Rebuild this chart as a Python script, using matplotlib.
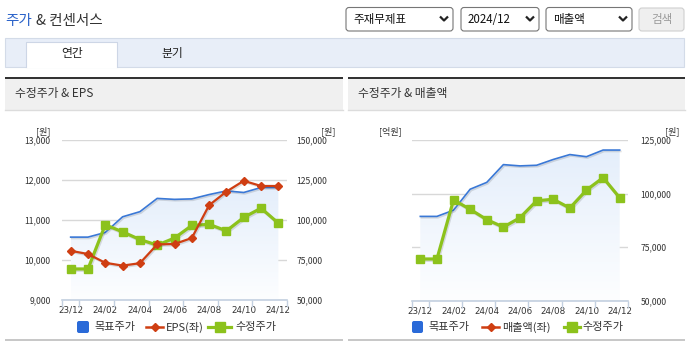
import numpy as np
import matplotlib
matplotlib.use('Agg')
import matplotlib.pyplot as plt
from matplotlib import font_manager
from matplotlib.patches import Rectangle, FancyBboxPatch, PathPatch
from matplotlib.path import Path
from matplotlib.lines import Line2D
from matplotlib.ticker import FixedLocator, FuncFormatter
import matplotlib.patheffects as pe
from matplotlib.colors import LinearSegmentedColormap

# ---------------- data ----------------
months = ['23/12', '24/01', '24/02', '24/03', '24/04', '24/05', '24/06',
          '24/07', '24/08', '24/09', '24/10', '24/11', '24/12']
target_price = [89300, 89300, 92200, 102000, 105200, 113500, 112900,
                113200, 115900, 118200, 117200, 120300, 120300]
adj_price = [69400, 69400, 97000, 92600, 87800, 84300, 88700,
             96600, 97300, 93200, 101600, 107400, 98000]
eps = [10230, 10150, 9930, 9860, 9920, 10390, 10400,
       10550, 11370, 11710, 11980, 11850, 11850]
revenue = []  # 매출액: no values shown

eps_ticks = [9000, 10000, 11000, 12000, 13000]
price_ticks_left = [50000, 75000, 100000, 125000, 150000]
price_ticks_right = [50000, 75000, 100000, 125000]

# ---------------- style ----------------
KR = ['Noto Sans CJK KR', 'DejaVu Sans']
names = {f.name for f in font_manager.fontManager.ttflist}
NARROW = 'Liberation Sans Narrow' if 'Liberation Sans Narrow' in names else 'DejaVu Sans'
plt.rcParams['font.family'] = KR

C_BLUE = '#3a78d6'
C_BLUE_LEG = '#2a6ad8'
C_RED = '#cf3e12'
C_GREEN = '#8cc21c'
C_GRID = '#d8d8d8'
C_AXIS = '#c3d0e0'
C_TXT = '#333333'

W, H = 690, 350
fig = plt.figure(figsize=(W / 100, H / 100), dpi=100)
fig.patch.set_facecolor('white')

ov = fig.add_axes([0, 0, 1, 1], zorder=0)
ov.set_xlim(0, W)
ov.set_ylim(H, 0)
ov.axis('off')


def rect(x0, y0, x1, y1, fc, ec='none', lw=0, z=1):
    ov.add_patch(Rectangle((x0, y0), x1 - x0, y1 - y0, facecolor=fc,
                           edgecolor=ec, linewidth=lw, zorder=z))


# header title
ov.text(5, 21.5, '주가', color='#2a62c9', fontsize=10.5, va='center', ha='left')
ov.text(36, 21.5, '& 컨센서스', color=C_TXT, fontsize=10.5, va='center', ha='left')

# dropdowns
for x0, x1, label in [(346, 453, '주재무제표'), (461, 539, '2024/12'), (546, 632, '매출액')]:
    ov.add_patch(FancyBboxPatch((x0, 7.5), x1 - x0, 23.5,
                                boxstyle='round,pad=0,rounding_size=3',
                                facecolor='white', edgecolor='#767676', linewidth=0.8, zorder=2))
    ov.text(x0 + 7, 19.5, label, fontsize=8.3, color='#111', va='center', ha='left', zorder=3)
    cx = x1 - 9
    ov.plot([cx - 4, cx, cx + 4], [16.5, 20.5, 16.5], color='#222', lw=1.6, zorder=3,
            solid_capstyle='butt')
ov.add_patch(FancyBboxPatch((639, 8), 45, 23, boxstyle='round,pad=0,rounding_size=3',
                            facecolor='#efefef', edgecolor='#cfcfcf', linewidth=0.8, zorder=2))
ov.text(661.5, 19.5, '검색', fontsize=8.3, color='#9a9a9a', va='center', ha='center', zorder=3)

# tab bar
rect(5, 37.5, 684, 67, '#e8eef8', ec='#d3dbe8', lw=0.8)
rect(25.7, 42, 117, 67.5, 'white', z=2)
ov.plot([25.7, 25.7, 117, 117], [67, 42, 42, 67], color='#cdd6e6', lw=0.8, zorder=3)
ov.text(72, 54, '연간', fontsize=8.5, color='#222', va='center', ha='center', zorder=3)
ov.text(172, 54, '분기', fontsize=8.5, color='#222', va='center', ha='center', zorder=3)

# panels
for x0, x1, title in [(5, 343, '수정주가 & EPS'), (348, 685, '수정주가 & 매출액')]:
    rect(x0, 79, x1, 109.5, '#f0f0f0')
    rect(x0, 76.5, x1, 79, '#333333')
    ov.plot([x0, x1], [110, 110], color='#dcdcdc', lw=1, zorder=2)
    ov.text(x0 + 10, 94, title, fontsize=8.5, color=C_TXT, va='center', ha='left', zorder=3)
    rect(x0, 339, x1, 341, '#c8c8c8')

# unit labels
ov.text(43, 131, '[원]', fontsize=6.5, color=C_TXT, ha='center', va='center')
ov.text(328, 131, '[원]', fontsize=6.5, color=C_TXT, ha='center', va='center')
ov.text(390, 131, '[억원]', fontsize=6.5, color=C_TXT, ha='center', va='center')
ov.text(672, 131, '[원]', fontsize=6.5, color=C_TXT, ha='center', va='center')

cmap = LinearSegmentedColormap.from_list('area', ['#fdfeff', '#e4eefb'])
shadow = [pe.SimpleLineShadow(offset=(0.8, -1.0), alpha=0.12, shadow_color='#000000'), pe.Normal()]
x = np.arange(len(months))


def area_gradient(axp, yvals, ybottom):
    im = axp.imshow(np.linspace(0, 1, 256).reshape(-1, 1), origin='lower',
                    extent=[x[0], x[-1], ybottom, max(yvals)], aspect='auto',
                    cmap=cmap, zorder=1, interpolation='bilinear')
    verts = list(zip(x, yvals)) + [(x[-1], ybottom), (x[0], ybottom), (x[0], yvals[0])]
    codes = [Path.MOVETO] + [Path.LINETO] * (len(verts) - 2) + [Path.CLOSEPOLY]
    patch = PathPatch(Path(verts, codes), facecolor='none', edgecolor='none',
                      transform=axp.transData)
    axp.add_patch(patch)
    im.set_clip_path(patch)


def style_xaxis(a):
    a.set_xlim(-0.5, 12.5)
    a.set_xticks(x[::2])
    a.set_xticklabels(months[::2], fontsize=6.3, color=C_TXT, family=NARROW)
    a.tick_params(axis='x', length=0, pad=4)
    a.xaxis.set_minor_locator(FixedLocator([-0.5, 0.5, 2.5, 4.5, 6.5, 8.5, 10.5, 12.5]))
    a.tick_params(axis='x', which='minor', length=5, color=C_AXIS, width=1)
    for s in ['top', 'left', 'right']:
        a.spines[s].set_visible(False)
    a.spines['bottom'].set_color(C_AXIS)
    a.spines['bottom'].set_linewidth(1.2)


fmt = FuncFormatter(lambda v, p: f'{int(v):,}')


def draw_price(a):
    area_gradient(a, target_price, 50000)
    a.plot(x, target_price, color=C_BLUE, lw=1.2, zorder=3, path_effects=shadow)
    a.plot(x, adj_price, color=C_GREEN, lw=2.3, zorder=4, path_effects=shadow)
    a.plot(x, adj_price, color=C_GREEN, lw=0, marker='s', ms=6, zorder=5)


# ---------------- left chart ----------------
axp = fig.add_axes([62 / W, 1 - 300 / H, 225 / W, 160 / H], zorder=2)  # price (right axis)
axe = fig.add_axes([62 / W, 1 - 300 / H, 225 / W, 160 / H], zorder=3)  # EPS (left axis)
axe.patch.set_visible(False)
axp.patch.set_visible(False)

draw_price(axp)
axp.set_ylim(50000, 150000)
axp.yaxis.tick_right()
axp.set_yticks(price_ticks_left)
axp.yaxis.set_major_formatter(fmt)
axp.tick_params(axis='y', length=0, pad=7, labelsize=6.2, labelcolor=C_TXT)
axp.grid(axis='y', color=C_GRID, lw=1)
axp.set_axisbelow(True)
style_xaxis(axp)

axe.plot(x, eps, color=C_RED, lw=1.6, zorder=4, path_effects=shadow)
axe.plot(x, eps, color=C_RED, lw=0, marker='D', ms=4.2, zorder=5)
axe.set_ylim(9000, 13000)
axe.set_xlim(-0.5, 12.5)
axe.set_yticks(eps_ticks)
axe.yaxis.set_major_formatter(fmt)
axe.tick_params(axis='y', length=0, pad=8, labelsize=6.2, labelcolor=C_TXT)
axe.tick_params(axis='x', which='both', length=0, labelbottom=False)
for s in axe.spines.values():
    s.set_visible(False)

# ---------------- right chart ----------------
axr = fig.add_axes([412 / W, 1 - 300.5 / H, 216 / W, 160.5 / H], zorder=2)
axr.patch.set_visible(False)
draw_price(axr)
if revenue:
    axr.plot(x[:len(revenue)], revenue, color=C_RED, lw=1.6, marker='D', ms=4.2)
axr.set_ylim(50000, 125000)
axr.yaxis.tick_right()
axr.set_yticks(price_ticks_right)
axr.yaxis.set_major_formatter(fmt)
axr.tick_params(axis='y', length=0, pad=9, labelsize=6.2, labelcolor=C_TXT)
axr.grid(axis='y', color=C_GRID, lw=1)
axr.set_axisbelow(True)
style_xaxis(axr)


# ---------------- legends ----------------
def legend(y, sq, red, redtxt, green, txt1, txt2, txt3):
    ov.add_patch(FancyBboxPatch((sq[0], y - 6), sq[1] - sq[0], 12,
                                boxstyle='round,pad=0,rounding_size=2',
                                facecolor=C_BLUE_LEG, edgecolor='none', zorder=3))
    ov.text(txt1, y, '목표주가', fontsize=8, color=C_TXT, va='center', ha='left')
    ov.add_line(Line2D([red[0], red[1]], [y, y], color=C_RED, lw=1.8, zorder=3))
    ov.add_line(Line2D([(red[0] + red[1]) / 2], [y], color=C_RED, marker='D', ms=4.5, zorder=4))
    ov.text(txt2, y, redtxt, fontsize=8, color=C_TXT, va='center', ha='left')
    ov.add_line(Line2D([green[0], green[1]], [y, y], color=C_GREEN, lw=2.3, zorder=3))
    ov.add_line(Line2D([(green[0] + green[1]) / 2], [y], color=C_GREEN, marker='s', ms=6.5, zorder=4))
    ov.text(txt3, y, '수정주가', fontsize=8, color=C_TXT, va='center', ha='left')


legend(327, (77, 89), (146, 163), 'EPS(좌)', (208, 231), 94, 166, 235)
legend(327, (412, 423), (482, 499), '매출액(좌)', (564, 580), 428, 502, 582)

fig.savefig('out.png', dpi=100, facecolor='white')
